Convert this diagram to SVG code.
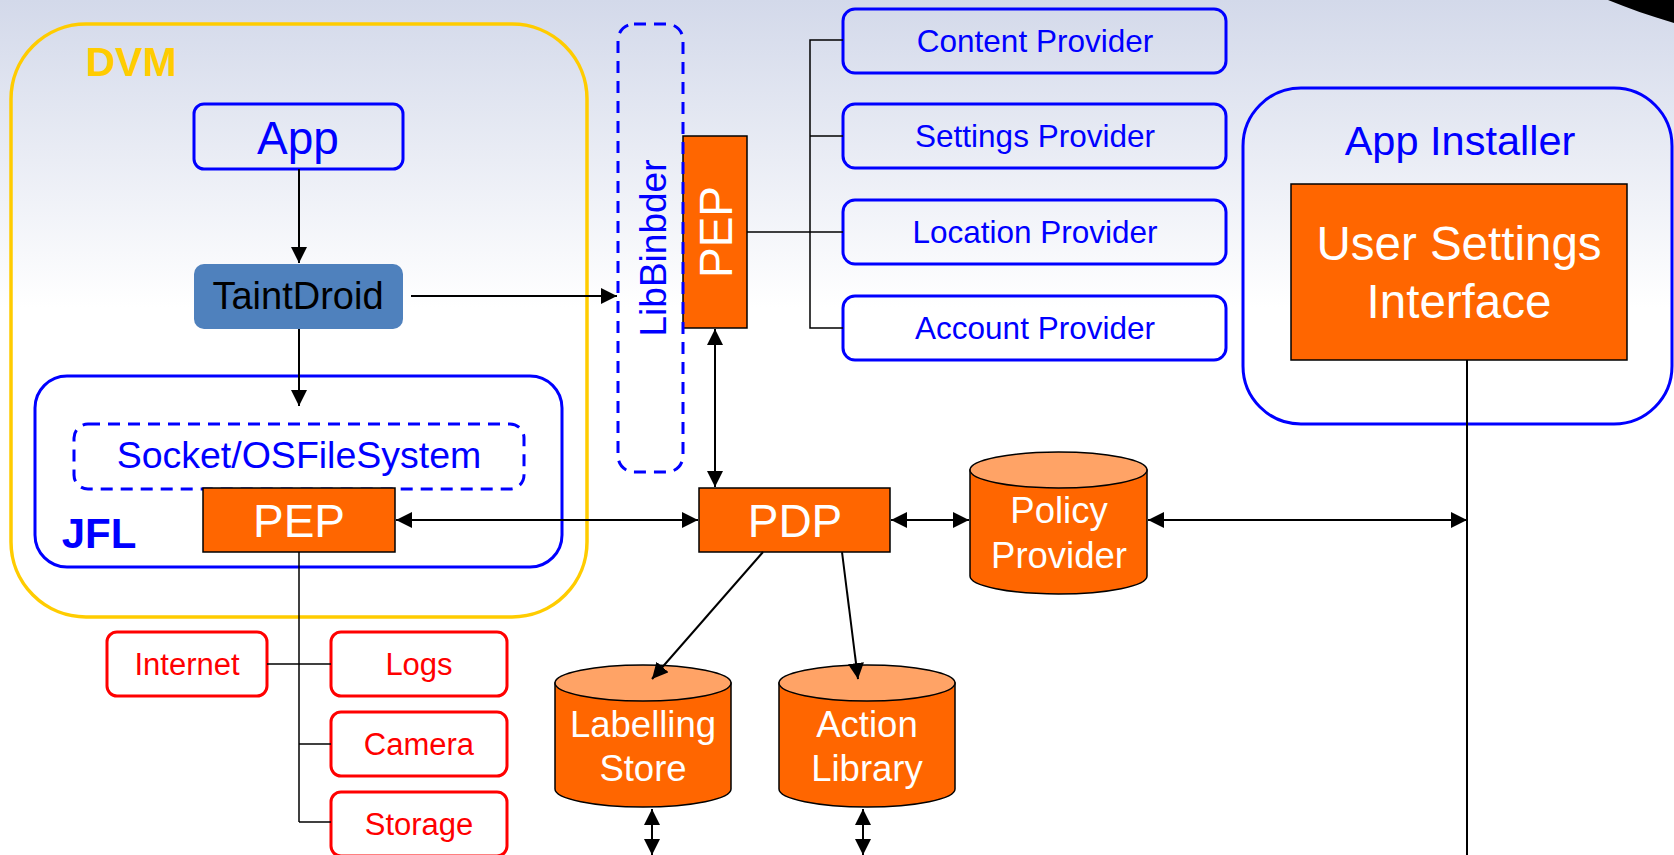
<svg xmlns="http://www.w3.org/2000/svg" width="1674" height="855" viewBox="0 0 1674 855">
<defs>
<linearGradient id="bg" x1="0" y1="0" x2="0" y2="1">
<stop offset="0" stop-color="#d3d9ea"/>
<stop offset="0.36" stop-color="#ffffff"/>
<stop offset="1" stop-color="#ffffff"/>
</linearGradient>
<marker id="ah" markerUnits="userSpaceOnUse" markerWidth="16" markerHeight="16" viewBox="0 0 14 14" refX="14" refY="7" orient="auto-start-reverse">
<path d="M0,0 L14,7 L0,14 z" fill="#000"/>
</marker>
<style>
.t{font-family:"Liberation Sans",Arial,sans-serif;text-anchor:middle}
.blue{fill:none;stroke:#0000ff;stroke-width:3}
.dash{fill:none;stroke:#0000ff;stroke-width:3;stroke-dasharray:12 8}
.red{fill:#ffffff;stroke:#ff0000;stroke-width:3}
.org{fill:#ff6600;stroke:#000;stroke-width:1.5}
.top{fill:#ffa366;stroke:#000;stroke-width:1.5}
.ln{fill:none;stroke:#000;stroke-width:2}
.thin{fill:none;stroke:#000;stroke-width:1.5}
.arr{fill:none;stroke:#000;stroke-width:2;marker-end:url(#ah)}
.arr2{fill:none;stroke:#000;stroke-width:2;marker-end:url(#ah);marker-start:url(#ah)}
</style>
</defs>
<rect x="0" y="0" width="1674" height="855" fill="url(#bg)"/>
<path d="M1608,0 C1628,8 1650,16 1674,23 L1674,0 Z" fill="#000"/>

<g id="dvm">
<rect x="11" y="24" width="576" height="593" rx="75" fill="none" stroke="#ffcc00" stroke-width="3.5"/>
<text class="t" x="131" y="76" font-size="41" font-weight="bold" fill="#ffcc00">DVM</text>
</g>

<g id="jfl">
<rect x="35" y="376" width="527" height="191" rx="32" class="blue"/>
<text class="t" x="99" y="548" font-size="42" font-weight="bold" fill="#0000ff">JFL</text>
</g>

<g id="app">
<rect x="194" y="104" width="209" height="65" rx="10" class="blue"/>
<text class="t" x="298" y="154" font-size="46" fill="#0000ff">App</text>
</g>

<g id="taintdroid">
<rect x="194" y="264" width="209" height="65" rx="10" fill="#4f81bd"/>
<text class="t" x="298" y="309" font-size="38" fill="#000">TaintDroid</text>
</g>

<g id="socket">
<rect x="74" y="424" width="450" height="65" rx="14" class="dash"/>
<text class="t" x="299" y="468" font-size="37.5" fill="#0000ff">Socket/OSFileSystem</text>
</g>

<g id="pep-jfl">
<rect x="203" y="488" width="192" height="64" class="org"/>
<text class="t" x="299" y="537" font-size="46" fill="#ffffff">PEP</text>
</g>

<g id="pep-binder">
<rect x="683" y="136" width="64" height="192" class="org"/>
<text class="t" transform="translate(732,232) rotate(-90)" x="0" y="0" font-size="46" fill="#ffffff">PEP</text>
</g>

<g id="libbinder">
<rect x="618" y="24" width="65" height="448" rx="16" class="dash"/>
<text class="t" transform="translate(666,248) rotate(-90)" x="0" y="0" font-size="37" fill="#0000ff">LibBinbder</text>
</g>

<g id="content-provider">
<rect x="843" y="9" width="383" height="64" rx="12" class="blue"/>
<text class="t" x="1035" y="52" font-size="31.5" fill="#0000ff">Content Provider</text>
</g>
<g id="settings-provider">
<rect x="843" y="104" width="383" height="64" rx="12" class="blue"/>
<text class="t" x="1035" y="147" font-size="31.5" fill="#0000ff">Settings Provider</text>
</g>
<g id="location-provider">
<rect x="843" y="200" width="383" height="64" rx="12" class="blue"/>
<text class="t" x="1035" y="243" font-size="31.5" fill="#0000ff">Location Provider</text>
</g>
<g id="account-provider">
<rect x="843" y="296" width="383" height="64" rx="12" class="blue"/>
<text class="t" x="1035" y="339" font-size="31.5" fill="#0000ff">Account Provider</text>
</g>

<g id="app-installer">
<rect x="1243" y="88" width="429" height="336" rx="58" class="blue"/>
<text class="t" x="1460" y="155" font-size="41.5" fill="#0000ff">App Installer</text>
</g>

<g id="user-settings">
<rect x="1291" y="184" width="336" height="176" class="org"/>
<text class="t" x="1459" y="260" font-size="47.5" fill="#ffffff">User Settings</text>
<text class="t" x="1459" y="318" font-size="47.5" fill="#ffffff">Interface</text>
</g>

<g id="pdp">
<rect x="699" y="488" width="191" height="64" class="org"/>
<text class="t" x="795" y="537" font-size="46" fill="#ffffff">PDP</text>
</g>

<g id="policy-provider">
<path d="M970,470 L970,576 A88.5,18 0 0 0 1147,576 L1147,470 Z" class="org"/>
<ellipse cx="1058.5" cy="470" rx="88.5" ry="18" class="top"/>
<text class="t" x="1059" y="523" font-size="36.5" fill="#ffffff">Policy</text>
<text class="t" x="1059" y="568" font-size="36.5" fill="#ffffff">Provider</text>
</g>

<g id="labelling-store">
<path d="M555,683 L555,789 A88,18 0 0 0 731,789 L731,683 Z" class="org"/>
<ellipse cx="643" cy="683" rx="88" ry="18" class="top"/>
<text class="t" x="643" y="737" font-size="36.5" fill="#ffffff">Labelling</text>
<text class="t" x="643" y="781" font-size="36.5" fill="#ffffff">Store</text>
</g>

<g id="action-library">
<path d="M779,683 L779,789 A88,18 0 0 0 955,789 L955,683 Z" class="org"/>
<ellipse cx="867" cy="683" rx="88" ry="18" class="top"/>
<text class="t" x="867" y="737" font-size="36.5" fill="#ffffff">Action</text>
<text class="t" x="867" y="781" font-size="36.5" fill="#ffffff">Library</text>
</g>

<g id="internet">
<rect x="107" y="632" width="160" height="64" rx="10" class="red"/>
<text class="t" x="187" y="675" font-size="31" fill="#ff0000">Internet</text>
</g>
<g id="logs">
<rect x="331" y="632" width="176" height="64" rx="10" class="red"/>
<text class="t" x="419" y="675" font-size="31" fill="#ff0000">Logs</text>
</g>
<g id="camera">
<rect x="331" y="712" width="176" height="64" rx="10" class="red"/>
<text class="t" x="419" y="755" font-size="31" fill="#ff0000">Camera</text>
</g>
<g id="storage">
<rect x="331" y="792" width="176" height="64" rx="10" class="red"/>
<text class="t" x="419" y="835" font-size="31" fill="#ff0000">Storage</text>
</g>

<g id="connectors">
<line x1="299" y1="169" x2="299" y2="263" class="arr"/>
<line x1="299" y1="329" x2="299" y2="406" class="arr"/>
<line x1="411" y1="296" x2="617" y2="296" class="arr"/>
<line x1="396" y1="520" x2="698" y2="520" class="arr2"/>
<line x1="715" y1="329" x2="715" y2="487" class="arr2"/>
<line x1="891" y1="520" x2="969" y2="520" class="arr2"/>
<line x1="1148" y1="520" x2="1467" y2="520" class="arr2"/>
<line x1="1467" y1="360" x2="1467" y2="855" class="ln"/>
<line x1="763" y1="552" x2="652" y2="679" class="arr"/>
<line x1="842" y1="552" x2="858" y2="679" class="arr"/>
<line x1="652" y1="809" x2="652" y2="855" class="arr2"/>
<line x1="863" y1="809" x2="863" y2="855" class="arr2"/>
<polyline points="747,232 810,232" class="thin"/>
<polyline points="843,40 810,40 810,328 843,328" class="thin"/>
<line x1="810" y1="136" x2="843" y2="136" class="thin"/>
<line x1="810" y1="232" x2="843" y2="232" class="thin"/>
<line x1="299" y1="552" x2="299" y2="822" class="thin"/>
<line x1="267" y1="664" x2="331" y2="664" class="thin"/>
<line x1="299" y1="744" x2="331" y2="744" class="thin"/>
<line x1="299" y1="822" x2="331" y2="822" class="thin"/>
</g>
</svg>
